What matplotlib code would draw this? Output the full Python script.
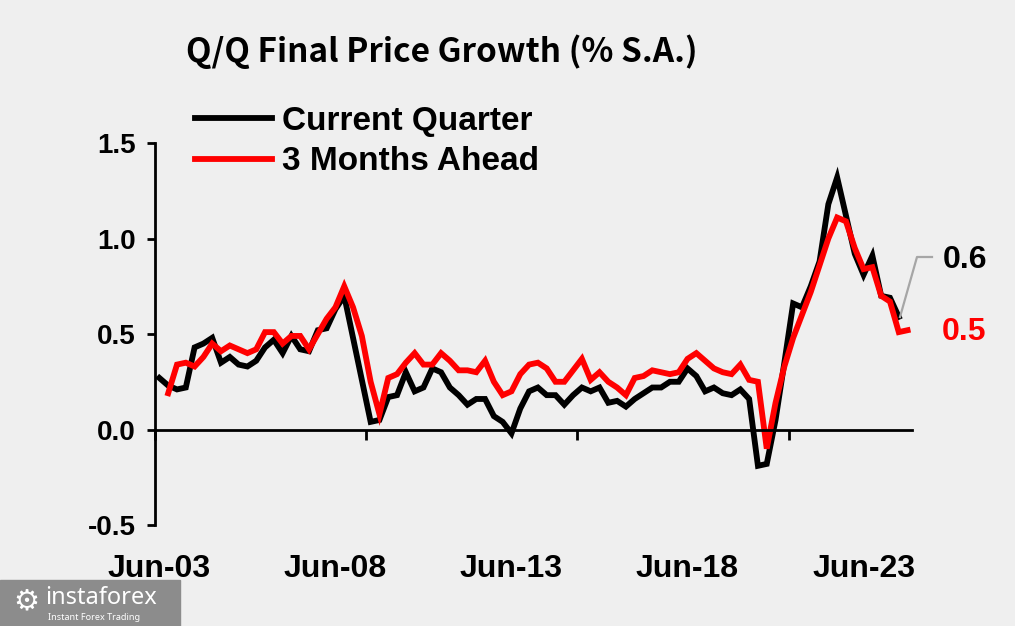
import matplotlib
matplotlib.use("Agg")
import matplotlib.pyplot as plt
from matplotlib.lines import Line2D
from matplotlib.patches import Rectangle

# ================== data (quarterly, Jun-03 = 0) ==================
current_quarter = [
    0.27, 0.23, 0.21, 0.22, 0.43, 0.45, 0.48, 0.35, 0.38, 0.34,
    0.33, 0.36, 0.43, 0.47, 0.40, 0.49, 0.42, 0.41, 0.52, 0.53,
    0.63, 0.70, 0.48, 0.26, 0.04, 0.05, 0.17, 0.18, 0.30, 0.20,
    0.22, 0.32, 0.30, 0.22, 0.18, 0.13, 0.16, 0.16, 0.07, 0.04,
    -0.02, 0.11, 0.20, 0.22, 0.18, 0.18, 0.13, 0.18, 0.22, 0.20,
    0.22, 0.14, 0.15, 0.12, 0.16, 0.19, 0.22, 0.22, 0.25, 0.25,
    0.32, 0.28, 0.20, 0.22, 0.19, 0.18, 0.21, 0.16, -0.19, -0.18,
    0.05, 0.35, 0.66, 0.64, 0.75, 0.88, 1.18, 1.32, 1.12, 0.92,
    0.81, 0.91, 0.70, 0.69, 0.59,
]
three_months_ahead = [
    0.19, 0.34, 0.35, 0.33, 0.38, 0.45, 0.41, 0.44, 0.42, 0.40,
    0.42, 0.51, 0.51, 0.45, 0.49, 0.49, 0.42, 0.50, 0.58, 0.64,
    0.75, 0.64, 0.49, 0.25, 0.08, 0.27, 0.29, 0.35, 0.40, 0.34,
    0.34, 0.40, 0.36, 0.31, 0.31, 0.30, 0.36, 0.25, 0.18, 0.20,
    0.29, 0.34, 0.35, 0.32, 0.25, 0.25, 0.31, 0.37, 0.26, 0.30,
    0.25, 0.22, 0.18, 0.27, 0.28, 0.31, 0.30, 0.29, 0.30, 0.37,
    0.40, 0.36, 0.32, 0.30, 0.29, 0.34, 0.26, 0.25, -0.10, 0.14,
    0.33, 0.48, 0.60, 0.72, 0.86, 1.00, 1.11, 1.09, 0.95, 0.84,
    0.85, 0.70, 0.67, 0.51, 0.52,
]
x_labels = ["Jun-03", "Jun-08", "Jun-13", "Jun-18", "Jun-23"]
x_label_pos = [0, 20, 40, 60, 80]
y_ticks = [-0.5, 0.0, 0.5, 1.0, 1.5]

x_cq = list(range(len(current_quarter)))
x_3m = list(range(1, len(three_months_ahead) + 1))

BG = "#efefef"
FONT = ["Liberation Sans", "Arial", "DejaVu Sans"]

fig = plt.figure(figsize=(10.15, 6.26), dpi=100, facecolor=BG)
ax = fig.add_axes([0.1527, 0.1613, 0.7458, 0.6102], facecolor=BG)

ax.plot(x_cq, current_quarter, color="black", lw=4.2, solid_joinstyle="miter")
ax.plot(x_3m, three_months_ahead, color="#ff0000", lw=4.2, solid_joinstyle="miter")

ax.set_xlim(-0.5, 85.5)
ax.set_ylim(-0.5, 1.5)

for s in ["top", "right"]:
    ax.spines[s].set_visible(False)
ax.spines["bottom"].set_position(("data", 0))
ax.spines["bottom"].set_linewidth(2)
ax.spines["left"].set_linewidth(2)

ax.set_xticks([-0.5, 23.5, 47.5, 71.5])
ax.set_xticklabels([])
ax.tick_params(axis="x", direction="out", length=7, width=2)
ax.set_yticks(y_ticks)
ax.set_yticklabels([f"{v:.1f}" for v in y_ticks], fontsize=20,
                   fontweight="bold", family=FONT)
ax.tick_params(axis="y", direction="out", length=6, width=2, pad=8)

for pos, lab in zip(x_label_pos, x_labels):
    ax.text(pos, -0.115, lab, transform=ax.get_xaxis_transform(),
            ha="center", va="center", fontsize=23, fontweight="bold", family=FONT)

# end value callouts
fig.add_artist(Line2D([900 / 1015, 917 / 1015, 932 / 1015],
                      [1 - 317 / 626, 1 - 257 / 626, 1 - 257 / 626],
                      color="#a6a6a6", lw=1.6))
fig.text(943 / 1015, 1 - 260 / 626, f"{current_quarter[-1]:.1f}",
         fontsize=23, fontweight="bold", family=FONT, color="black",
         ha="left", va="center")
fig.text(942 / 1015, 1 - 332 / 626, f"{three_months_ahead[-1]:.1f}",
         fontsize=23, fontweight="bold", family=FONT, color="#ff0000",
         ha="left", va="center")

# title and legend
fig.text(186 / 1015, 1 - 52 / 626, "Q/Q Final Price Growth (% S.A.)",
         fontsize=24, fontweight="bold",
         family=["Noto Sans CJK JP", "DejaVu Sans"], ha="left", va="center")
leg = ax.legend(["Current Quarter", "3 Months Ahead"], loc="upper left",
                bbox_to_anchor=(195 / 1015, 1 - 106 / 626),
                bbox_transform=fig.transFigure, frameon=False,
                prop={"family": FONT, "weight": "bold", "size": 24},
                handlelength=2.3, handletextpad=0.3, labelspacing=0.28,
                borderpad=0, borderaxespad=0)

# watermark
fig.add_artist(Rectangle((0, 0), 180 / 1015, 46 / 626, transform=fig.transFigure,
                         color="#8c8c8c", zorder=0))
fig.text(26 / 1015, 1 - 601 / 626, "\u2699", color="white", fontsize=21,
         ha="center", va="center", family="DejaVu Sans")
fig.text(45 / 1015, 1 - 598 / 626, "instaforex", color="white", fontsize=17,
         ha="left", va="center", family=["Noto Sans", "DejaVu Sans"])
fig.text(48 / 1015, 1 - 617 / 626, "Instant Forex Trading", color="white",
         fontsize=6.5, ha="left", va="center", family=["Noto Sans", "DejaVu Sans"])

fig.savefig("out.png", dpi=100, facecolor=BG)
